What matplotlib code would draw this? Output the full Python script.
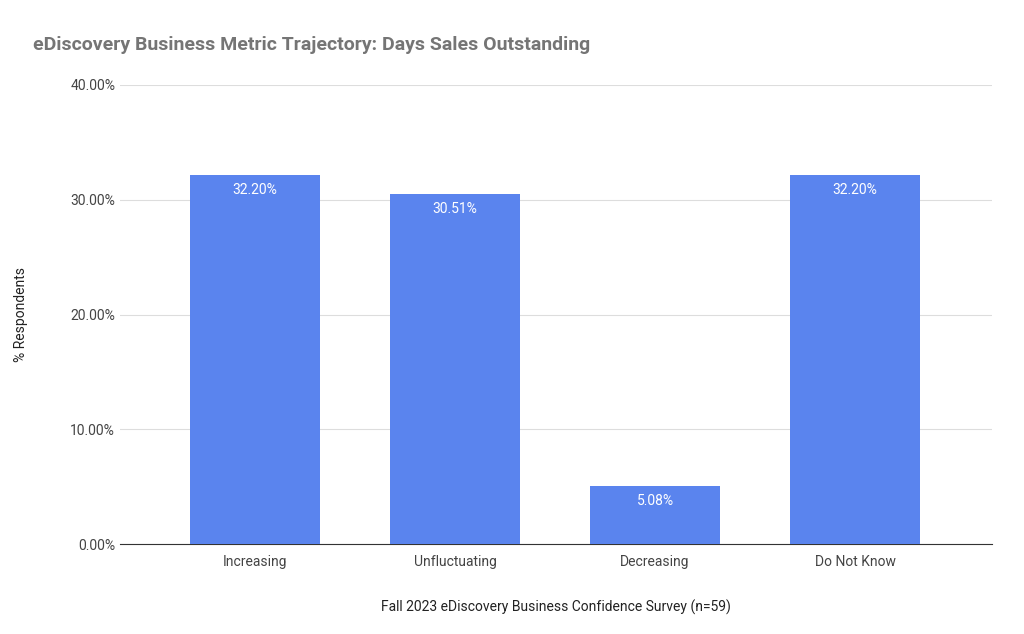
import matplotlib.pyplot as plt

categories = ["Increasing", "Unfluctuating", "Decreasing", "Do Not Know"]
values = [32.20, 30.51, 5.08, 32.20]

plt.rcParams["font.family"] = "Roboto"
fig = plt.figure(figsize=(10.24, 6.34), dpi=100)
ax = fig.add_axes([120/1024, 1-544/634, 872/1024, 459/634])

x = range(len(categories))
bars = ax.bar(x, values, width=0.65, color="#5a84ee", zorder=3)
for b, v in zip(bars, values):
    ax.text(b.get_x() + b.get_width()/2, v - 0.7, f"{v:.2f}%", ha="center", va="top",
            color="white", fontsize=10)

ax.set_xlim(-0.675, 3.685)
ax.set_ylim(0, 40)
ax.set_yticks([0, 10, 20, 30, 40])
ax.set_yticklabels([f"{t:.2f}%" for t in [0, 10, 20, 30, 40]])
ax.set_xticks(list(x))
ax.set_xticklabels(categories)
ax.grid(axis="y", color="#dddddd", linewidth=0.8, zorder=0)
for s in ["top", "right", "left"]:
    ax.spines[s].set_visible(False)
ax.spines["bottom"].set_color("#333333")
ax.tick_params(length=0, colors="#444444", labelsize=10)
ax.tick_params(axis="x", pad=8)
ax.set_ylabel("% Respondents", color="#222222", fontsize=10, labelpad=30)
ax.set_xlabel("Fall 2023 eDiscovery Business Confidence Survey (n=59)", color="#222222",
              fontsize=10, labelpad=22)
fig.text(33/1024, 1-45/634, "eDiscovery Business Metric Trajectory: Days Sales Outstanding",
         fontsize=14, fontweight="bold", color="#757575", va="center")
fig.savefig("out.png", dpi=100, facecolor="white")
